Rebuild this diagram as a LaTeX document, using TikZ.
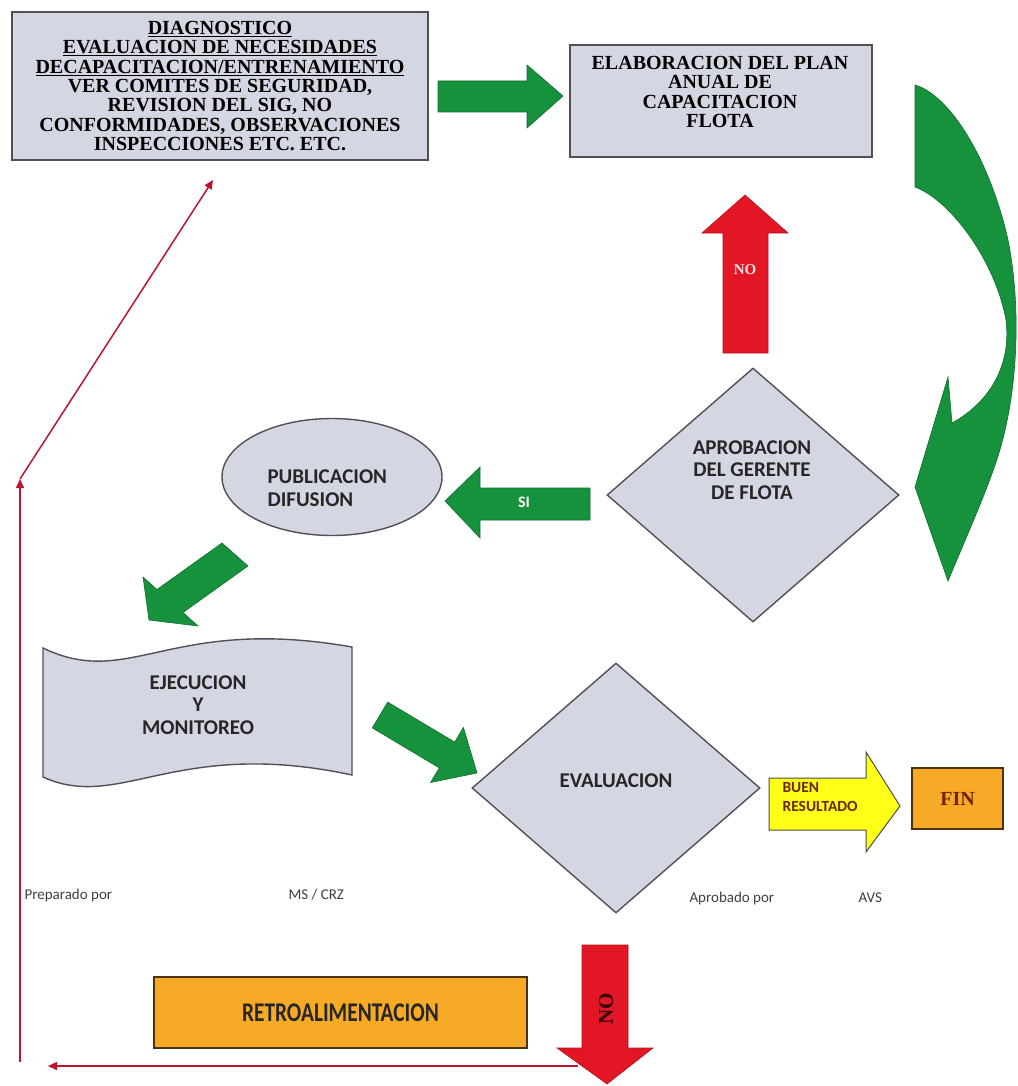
\documentclass[tikz,border=0pt]{standalone}
\usepackage{fontspec}
\usepackage{graphicx}
\setmainfont{Liberation Serif}
\newfontfamily\calibfont{Carlito}
\usetikzlibrary{arrows.meta}
\usetikzlibrary{positioning}
\usetikzlibrary{shapes.geometric}

\definecolor{shapefill}{RGB}{212,214,226}
\definecolor{edgegray}{RGB}{80,80,86}
\definecolor{greenA}{RGB}{22,146,60}
\definecolor{redA}{RGB}{226,22,36}
\definecolor{yellowA}{RGB}{255,255,24}
\definecolor{orangeA}{RGB}{247,170,38}
\definecolor{lineRed}{RGB}{188,20,48}
\definecolor{brownText}{RGB}{110,36,12}

\tikzset{
  grayshape/.style={draw=edgegray, fill=shapefill, line width=1.4pt},
  serifcaps/.style={align=center, font=\bfseries\fontsize{20}{19.3}\selectfont},
  sanslabel/.style={align=center, text=black!85, font=\calibfont\bfseries\fontsize{21}{22.5}\selectfont},
  greenarrow/.style={fill=greenA, draw=greenA!75!black, line width=0.6pt},
  redarrow/.style={fill=redA, draw=redA!80!black, line width=0.6pt},
  orangebox/.style={fill=orangeA, draw=black!70!orangeA, line width=1.4pt, inner sep=0pt},
  feedback/.style={draw=lineRed, line width=1.5pt, -{Triangle[length=9pt,width=8pt]}},
  note/.style={anchor=west, text=black!75, font=\calibfont\fontsize{15}{15}\selectfont},
}

\begin{document}
\begin{tikzpicture}[x=1pt, y=-1pt]
        \useasboundingbox (0,0) rectangle (1017,1086);

        \node[grayshape, serifcaps, minimum width=416pt, minimum height=148pt, inner sep=0pt] (diag) at (220,86)
          {\underline{DIAGNOSTICO}\\\underline{EVALUACION DE NECESIDADES}\\\underline{DECAPACITACION/ENTRENAMIENTO}\\VER COMITES DE SEGURIDAD,\\REVISION DEL SIG, NO\\CONFORMIDADES, OBSERVACIONES\\INSPECCIONES ETC. ETC.};
        \node[grayshape, minimum width=302pt, minimum height=112pt] (plan) at (721,101) {};
        \node[serifcaps] (plantext) at (720,92) {ELABORACION DEL PLAN\\ANUAL DE\\CAPACITACION\\FLOTA};

        \fill[greenarrow] (438,81) -- (527,81) -- (527,65) -- (563,96) -- (527,128) -- (527,112) -- (438,112) -- cycle;

        % big turning arrow on the right
        \fill[greenarrow] (915,85) .. controls (950,95) and (990,160) .. (1008,240)
          .. controls (1022,310) and (1018,400) .. (995,465) .. controls (985,495) and (965,540) .. (948,581)
          -- (915,487) -- (948,377) -- (952,423)
          .. controls (985,405) and (1012,370) .. (1006,320) .. controls (995,260) and (950,200) .. (915,187) -- cycle;

        \fill[redarrow] (723,353) -- (723,233) -- (702,233) -- (745,195) -- (788,233) -- (768,233) -- (768,353) -- cycle;
        \node[text=white!90!red, font=\bfseries\fontsize{15}{15}\selectfont] (noup) at (745,270) {NO};

        \node[grayshape, diamond, minimum width=292pt, minimum height=254pt, inner sep=0pt] (aprob) at (753,495) {};
        \node[sanslabel] (aprobtext) at (752,470) {APROBACION\\DEL GERENTE\\DE FLOTA};

        \fill[greenarrow] (590,488) -- (480,488) -- (480,467) -- (445,501) -- (480,538) -- (480,520) -- (590,520) -- cycle;
        \node[text=white, font=\calibfont\bfseries\fontsize{16}{16}\selectfont] (si) at (524,502) {SI};

        \node[grayshape, ellipse, minimum width=220pt, minimum height=117pt, inner sep=0pt] (publica) at (332,477) {};
        \node[sanslabel, align=left, anchor=west] (pubtext) at (264,488) {PUBLICACION\\DIFUSION};

        \fill[greenarrow] (222,543) -- (157,589.5) -- (143,577) -- (149,620) -- (198,626) -- (183,612.5) -- (248,566) -- cycle;

        \draw[grayshape] (43,648) .. controls (130,690) and (170,615) .. (352,647) -- (352,775)
          .. controls (175,737) and (120,812) .. (43,777) -- cycle;
        \node[sanslabel] (ejectext) at (198,705) {EJECUCION\\Y\\MONITOREO};

        \node[grayshape, diamond, minimum width=288pt, minimum height=250pt, inner sep=0pt] (evalua) at (616,788) {};
        \node[sanslabel] (evaltext) at (616,781) {EVALUACION};

        \fill[greenarrow] (387.7,702.1) -- (454.7,742.1) -- (463.4,727.5) -- (477,773) -- (430.6,782.5) -- (439.3,767.9) -- (372.3,727.9) -- cycle;

        \filldraw[fill=yellowA, draw=black!70, line width=1pt] (769,778) -- (866,778) -- (866,752) -- (900,806) -- (866,852) -- (866,830) -- (769,830) -- cycle;
        \node[anchor=west, align=left, text=brownText, font=\calibfont\bfseries\fontsize{15.5}{19}\selectfont] (buen) at (779,797) {BUEN\\RESULTADO};
        \node[orangebox, minimum width=91pt, minimum height=61pt] (fin) at (957.5,798.5)
          {\textcolor{brownText}{\bfseries\fontsize{20}{20}\selectfont FIN}};

        \node[note] (prep) at (21,895) {Preparado por};
        \node[note] (mscrz) at (285,895) {MS / CRZ};
        \node[note] (aprobpor) at (686,898) {Aprobado por};
        \node[note] (avs) at (855,898) {AVS};

        \node[orangebox, minimum width=373pt, minimum height=71pt] (retro) at (340.5,1012.5)
          {\scalebox{0.79}[1]{\calibfont\bfseries\fontsize{27}{27}\selectfont\color{black!85} RETROALIMENTACION}};

        % feedback loop back to the diagnosis
        \coordinate (fbstart) at (578,1066);
        \coordinate (fbleft) at (48,1066);
        \coordinate (fbbottom) at (20,1062);
        \coordinate (fbcorner) at (20,479);
        \coordinate (fbtop) at (213,180);
        \draw[feedback] (fbstart) -- (fbleft);
        \draw[feedback] (fbbottom) -- (fbcorner);
        \draw[feedback] (fbcorner) -- (fbtop);

        \fill[redarrow] (582,945) -- (628,945) -- (628,1048) -- (653,1048) -- (607,1084) -- (557,1048) -- (582,1048) -- cycle;
        \node[rotate=90, text=black!80!red, font=\bfseries\fontsize{21}{21}\selectfont] (nodown) at (606,1009) {NO};
      \end{tikzpicture}
\end{document}
